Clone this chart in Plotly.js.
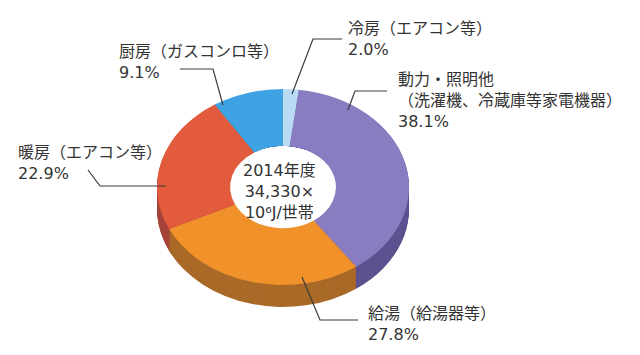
<!DOCTYPE html>
<html>
<head>
<meta charset="utf-8">
<script src="https://cdn.plot.ly/plotly-3.0.1.min.js"></script>
<style>html,body{margin:0;padding:0;background:#fff;}#chart{width:640px;height:355px;}</style>
</head>
<body>
<div id="chart"></div>
<script>
// ---- data ----
const categories = ['冷房（エアコン等）', '動力・照明他<br>（洗濯機、冷蔵庫等家電機器）', '給湯（給湯器等）', '暖房（エアコン等）', '厨房（ガスコンロ等）'];
const shares = [2.0, 38.1, 27.8, 22.9, 9.1];
const centerLines = ['2014年度', '34,330×', '10⁶J/世帯'];

// ---- styles ----
const topColors  = ['#b9dbf3', '#8a7cc1', '#f0912a', '#e25b3d', '#3fa2e2'];
const sideColors = ['#8fb3cc', '#5d5290', '#a96a28', '#a6443a', '#2f79a8'];

// ---- geometry (pixels) ----
const W = 640, H = 355;
const CX = 283, CY = 187, RX = 126, RY = 98, DEPTH = 22, HOLE = 0.42;
const S = RY / RX;
const px = x => x / W, py = y => 1 - y / H;

const plain = categories.map(c => c.replace('<br>', ''));
const traces = [];
function pieTrace(offsetPre, colors, hole) {
  const yc = H - (CY + offsetPre);
  return {
    type: 'pie', values: shares, labels: plain, sort: false, direction: 'clockwise', rotation: 0,
    hole: hole, textinfo: 'none', hoverinfo: 'skip', showlegend: false,
    marker: {colors: colors, line: {width: 0}},
    domain: {x: [(CX - RX) / W, (CX + RX) / W], y: [(yc - RX) / H, (yc + RX) / H]}
  };
}
for (let i = DEPTH; i >= 1; i--) {
  const k = i / S;
  traces.push(pieTrace(k, sideColors, (HOLE * RX + k) / RX));
}
traces.push(pieTrace(0, topColors, HOLE));

// label blocks: left x, middle y
const labelPos = [[346, 39], [396, 100.5], [366, 323.5], [16, 162.5], [117, 62.5]];
const leaders = [
  [[292, 94], [313, 39], [342, 39]],
  [[348, 110], [355, 91], [387, 91]],
  [[302, 277], [320, 320], [358, 320]],
  [[88, 170], [100, 186], [166, 186]],
  [[223, 105], [213, 69], [180, 69]]
];

const fam = '"DejaVu Sans", "Noto Sans CJK JP", sans-serif';
const font = {family: fam, size: 16, color: '#333333'};
const annotations = categories.map((c, i) => ({
  xref: 'paper', yref: 'paper', x: px(labelPos[i][0]), y: py(labelPos[i][1]),
  xanchor: 'left', yanchor: 'middle', align: 'left', showarrow: false,
  text: c + '<br>' + shares[i].toFixed(1) + '%', font: font
}));
annotations.push({
  xref: 'paper', yref: 'paper', x: px(279), y: py(192), xanchor: 'center', yanchor: 'middle',
  align: 'center', showarrow: false, text: centerLines.join('<br>'),
  font: {family: fam, size: 16, color: '#333333'}
});

const shapes = leaders.map(pts => ({
  type: 'path', xref: 'paper', yref: 'paper',
  path: pts.map((p, j) => (j ? 'L' : 'M') + px(p[0]) + ',' + py(p[1])).join(' '),
  line: {color: '#3a3a3a', width: 1.2}
}));

const layout = {
  width: W, height: H, margin: {l: 0, r: 0, t: 0, b: 0},
  paper_bgcolor: '#ffffff', plot_bgcolor: '#ffffff',
  annotations: annotations, shapes: shapes, showlegend: false
};

Plotly.newPlot('chart', traces, layout, {displayModeBar: false, staticPlot: true}).then(() => {
  const g = document.querySelector('.pielayer');
  if (g) g.setAttribute('transform', 'translate(0,' + (CY * (1 - S)) + ') scale(1,' + S + ')');
});
</script>
</body>
</html>
